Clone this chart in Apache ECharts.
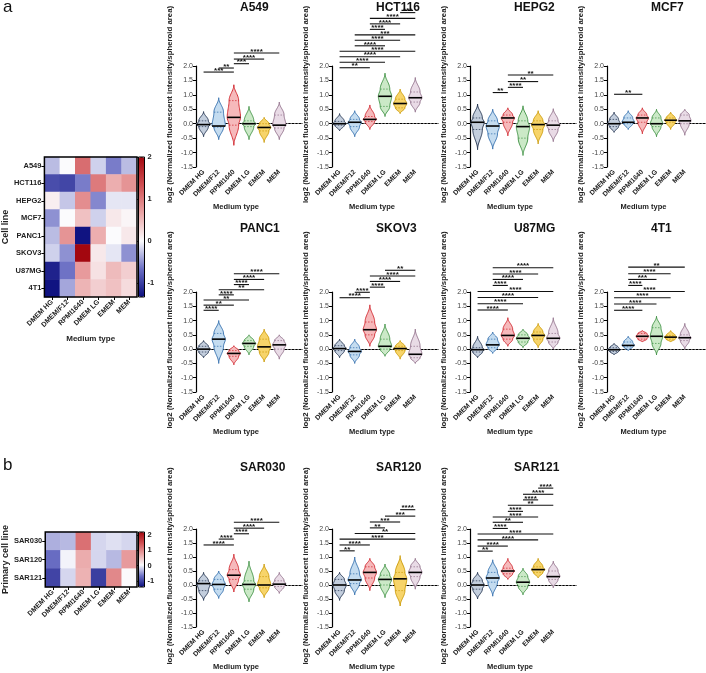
<!DOCTYPE html>
<html><head><meta charset="utf-8">
<script src="https://cdn.jsdelivr.net/npm/echarts@6/dist/echarts.min.js"></script>
<style>html,body{margin:0;padding:0;background:#fff}#c{width:706px;height:673px}</style>
</head><body><div id="c"></div>
<script>
// ---------------- DATA ----------------
const media = ['DMEM HG','DMEM/F12','RPMI1640','DMEM LG','EMEM','MEM'];
const cellLines = ['A549','HCT116','HEPG2','MCF7','PANC1','SKOV3','U87MG','4T1'];
const primaryLines = ['SAR030','SAR120','SAR121'];
const yTicksViolin = [-1.5, 2.0, 0.5]; // min, max, step
const colorbarTicks = [-1, 0, 1, 2];

const heatCell = [
  [-0.30, 0.00, 1.10, -0.20, -0.60, -0.30],
  [-0.90, -0.95, -0.60, 1.00, 0.60, 0.80],
  [0.10, -0.25, 0.85, -0.55, -0.10, -0.10],
  [-0.50, 0.00, 0.45, -0.20, 0.15, 0.05],
  [-0.30, 0.80, -1.30, 0.60, 0.00, 0.15],
  [-0.20, -0.50, 2.00, 0.15, -0.10, -0.50],
  [-1.20, -0.65, 0.75, 0.20, 0.50, 0.35],
  [-1.30, -0.40, 0.55, 0.35, 0.45, 0.25]
];
const heatPrimary = [
  [-0.35, -0.30, 1.20, -0.15, -0.10, -0.15],
  [-0.70, 0.00, 0.70, -0.15, -0.30, 0.85],
  [-1.00, -0.15, 0.65, -1.05, 1.00, 0.05]
];

// violins: [min, q1, median, q3, max] per medium
const vA549   = [[-0.45,-0.10,-0.03,0.10,0.42],[-0.55,-0.12,-0.08,0.40,0.90],[-0.75,-0.05,0.22,0.80,1.35],[-0.55,-0.10,0.00,0.10,0.60],[-0.65,-0.25,-0.13,0.00,0.22],[-0.55,-0.15,-0.05,0.30,0.75]];
const vHCT116 = [[-0.25,-0.05,0.00,0.08,0.35],[-0.45,-0.10,0.05,0.15,0.45],[-0.20,0.08,0.15,0.25,0.65],[0.25,0.60,0.95,1.20,1.75],[0.35,0.55,0.70,0.85,1.20],[0.40,0.75,0.90,1.10,1.60]];
const vHEPG2  = [[-0.90,-0.20,0.05,0.20,0.68],[-0.88,-0.35,-0.08,0.10,0.50],[-0.42,0.05,0.20,0.30,0.55],[-1.10,-0.50,-0.10,0.10,0.62],[-0.70,-0.20,-0.03,0.10,0.45],[-0.62,-0.20,-0.05,0.10,0.52]];
const vMCF7    = [[-0.30,-0.10,0.00,0.15,0.40],[-0.20,0.00,0.05,0.20,0.45],[-0.35,0.05,0.20,0.30,0.55],[-0.45,-0.10,0.00,0.20,0.50],[-0.20,0.05,0.12,0.20,0.40],[-0.40,0.00,0.10,0.30,0.50]];
const vPANC1  = [[-0.30,-0.10,0.00,0.10,0.30],[-0.50,0.10,0.35,0.55,1.00],[-0.55,-0.25,-0.15,-0.05,0.12],[-0.20,0.10,0.20,0.30,0.50],[-0.45,-0.10,0.08,0.35,0.70],[-0.35,0.00,0.15,0.30,0.50]];
const vSKOV3  = [[-0.30,-0.05,0.02,0.12,0.35],[-0.50,-0.20,-0.08,0.05,0.35],[0.10,0.50,0.68,0.95,1.55],[-0.25,0.00,0.10,0.35,0.88],[-0.35,-0.05,0.02,0.10,0.30],[-0.50,-0.30,-0.18,0.10,0.70]];
const vU87MG  = [[-0.30,-0.10,-0.02,0.05,0.45],[-0.15,0.05,0.15,0.35,0.60],[0.10,0.35,0.48,0.70,1.10],[0.05,0.25,0.38,0.50,0.70],[0.05,0.35,0.48,0.60,0.90],[0.00,0.25,0.38,0.55,1.10]];
const v4T1    = [[-0.20,-0.08,-0.02,0.05,0.20],[-0.05,0.08,0.13,0.25,0.45],[0.25,0.35,0.45,0.55,0.65],[-0.20,0.20,0.45,0.75,1.15],[0.25,0.35,0.42,0.48,0.65],[0.00,0.30,0.40,0.50,0.90]];
const vSAR030 = [[-0.55,-0.20,0.05,0.15,0.45],[-0.48,-0.15,0.02,0.20,0.50],[-0.25,0.20,0.35,0.55,1.10],[-0.60,-0.15,0.02,0.15,0.85],[-0.45,-0.10,0.00,0.30,0.75],[-0.30,-0.05,0.03,0.15,0.45]];
const vSAR120 = [[-0.55,-0.20,0.00,0.20,0.45],[-0.35,0.05,0.18,0.40,1.00],[-0.20,0.25,0.45,0.65,0.95],[-0.45,0.00,0.20,0.35,0.75],[-0.75,-0.20,0.22,0.45,1.05],[-0.15,0.30,0.45,0.65,0.95]];
const vSAR121 = [[-0.50,-0.15,0.00,0.15,0.45],[-0.40,0.10,0.25,0.45,0.90],[0.20,0.40,0.50,0.60,0.95],[-0.35,-0.05,0.10,0.30,0.60],[0.25,0.45,0.55,0.65,0.95],[-0.10,0.20,0.30,0.50,0.85]];

// significance brackets: [from, to, y, number of stars]
const bA549   = [[2,5,2.45,4],[2,4,2.24,4],[2,3,2.08,3],[1,2,1.93,2],[0,2,1.79,3]];
const bHCT116 = [[4,5,3.85,3],[2,5,3.65,4],[2,4,3.46,4],[2,3,3.27,4],[1,5,3.08,3],[1,4,2.89,4],[1,3,2.70,4],[0,5,2.51,4],[0,4,2.32,4],[0,3,2.13,4],[0,2,1.94,2]];
const bHEPG2  = [[2,5,1.69,2],[2,4,1.46,2],[2,3,1.26,4],[1,2,1.08,2]];
const bMCF7   = [[0,2,1.02,2]];
const bPANC1  = [[2,5,2.64,4],[2,4,2.44,4],[2,3,2.26,4],[1,4,2.08,2],[1,2,1.90,4],[0,3,1.72,2],[0,2,1.54,2],[0,1,1.36,4]];
const bSKOV3  = [[3,5,2.76,2],[2,5,2.56,4],[2,4,2.37,4],[2,3,2.17,4],[1,2,1.99,4],[0,2,1.80,4]];
const bU87MG  = [[1,5,2.85,4],[1,4,2.63,4],[1,3,2.44,4],[1,2,2.23,4],[0,5,2.02,4],[0,4,1.81,4],[0,3,1.59,4],[0,2,1.37,4]];
const b4T1    = [[1,5,2.87,2],[1,4,2.64,4],[1,3,2.44,3],[1,2,2.23,4],[0,5,2.02,4],[0,4,1.80,4],[0,3,1.58,4],[0,2,1.36,4]];
const bSAR030 = [[2,5,2.24,4],[2,4,2.03,4],[2,3,1.83,4],[1,2,1.64,4],[0,2,1.43,4]];
const bSAR120 = [[4,5,2.69,4],[3,5,2.46,3],[2,4,2.25,3],[2,3,2.04,2],[1,5,1.84,2],[0,5,1.64,4],[0,2,1.43,4],[0,1,1.22,2]];
const bSAR121 = [[4,5,3.46,4],[3,5,3.24,4],[3,4,3.04,4],[2,5,2.85,2],[2,3,2.63,4],[1,4,2.43,4],[1,3,2.24,2],[1,2,2.02,4],[0,5,1.82,4],[0,4,1.61,4],[0,2,1.39,4],[0,1,1.21,2]];

// ---------------- STYLE / LAYOUT ----------------
const edgeCol = ['#1c2d4a','#2c6aaa','#cf2129','#3b8f40','#c99700','#8e6d88'];
const fillCol = ['#c3cedd','#c4dcf0','#f6b9bb','#cbe9c7','#f7d46a','#e9dbe6'];
const heatColors = ['#0c0f7e','#6b6fc4','#fbfbfd','#eaa5a6','#cf4f52','#a3070f'];
const FONT = 'Liberation Sans, Arial, sans-serif';
const colX = [196, 332, 470, 607];
const rows = [{top:66,h:101,title:2},{top:292,h:100,title:223},{top:529,h:98,title:462}];
const panels = [
  ['A549',vA549,bA549,0,0],['HCT116',vHCT116,bHCT116,0,1],['HEPG2',vHEPG2,bHEPG2,0,2],['MCF7',vMCF7,bMCF7,0,3],
  ['PANC1',vPANC1,bPANC1,1,0],['SKOV3',vSKOV3,bSKOV3,1,1],['U87MG',vU87MG,bU87MG,1,2],['4T1',v4T1,b4T1,1,3],
  ['SAR030',vSAR030,bSAR030,2,0],['SAR120',vSAR120,bSAR120,2,1],['SAR121',vSAR121,bSAR121,2,2]
];
const yName = 'log2 (Normalized fluorescent intensity/spheroid area)';

function violinItem(params, api){
  const cat = api.value(0);
  const v = [api.value(1),api.value(2),api.value(3),api.value(4),api.value(5)];
  const band = api.size([1,0])[0];
  const hw = band*0.44;
  const cx = api.coord([cat, v[2]])[0];
  const knots = [[v[0],0],[v[1],0.72],[v[2],1],[v[3],0.72],[v[4],0]];
  const wAt = y => {
    for (let k=0;k<4;k++){
      const a=knots[k], b=knots[k+1];
      if (y>=a[0]-1e-9 && y<=b[0]+1e-9){
        const t = b[0]===a[0]?1:(y-a[0])/(b[0]-a[0]);
        const s = (1-Math.cos(Math.PI*t))/2;
        return (a[1]+(b[1]-a[1])*s)*hw;
      }
    }
    return 0;
  };
  const N=48, right=[], left=[];
  for (let i=0;i<=N;i++){
    const y=v[0]+(v[4]-v[0])*i/N;
    const py=api.coord([cat,y])[1];
    const w=wAt(y);
    right.push([cx+w,py]); left.unshift([cx-w,py]);
  }
  const hl = (val, style) => {
    const py = api.coord([cat,val])[1]; const w = wAt(val);
    return {type:'line', shape:{x1:cx-w,y1:py,x2:cx+w,y2:py}, style};
  };
  return {type:'group', children:[
    {type:'polygon', shape:{points:right.concat(left)}, style:{fill:fillCol[cat], stroke:edgeCol[cat], lineWidth:0.9}},
    hl(v[1], {stroke:edgeCol[cat], lineWidth:0.7, lineDash:[1.5,1.5]}),
    hl(v[3], {stroke:edgeCol[cat], lineWidth:0.7, lineDash:[1.5,1.5]}),
    hl(v[2], {stroke:'#000', lineWidth:1.6})
  ]};
}
function bracketItem(params, api){
  const p1 = api.coord([api.value(0), api.value(2)]);
  const p2 = api.coord([api.value(1), api.value(2)]);
  const n = api.value(3);
  return {type:'group', children:[
    {type:'line', shape:{x1:p1[0],y1:p1[1],x2:p2[0],y2:p2[1]}, style:{stroke:'#111', lineWidth:1.1}},
    {type:'text', style:{x:(p1[0]+p2[0])/2, y:p1[1]+2.5, text:'*'.repeat(n), fill:'#111', font:'bold 8px '+FONT, textAlign:'center', textVerticalAlign:'bottom'}}
  ]};
}

const grid=[], xAxis=[], yAxis=[], series=[], graphic=[];
panels.forEach((p,k)=>{
  const [name, vio, br, r, c] = p;
  const row = rows[r];
  grid.push({left:colX[c], top:row.top, width:106, height:row.h});
  xAxis.push({gridIndex:k, type:'category', data:media.concat(['']), boundaryGap:true,
    axisLine:{lineStyle:{color:'#000',width:1.2}},
    axisTick:{alignWithLabel:true, interval:(i)=>i<6, length:3, lineStyle:{color:'#000',width:1}},
    axisLabel:{interval:0, rotate:45, fontSize:6.8, fontWeight:'bold', color:'#222', margin:4, fontFamily:FONT},
    name:'Medium type', nameLocation:'middle', nameGap:36,
    nameTextStyle:{fontSize:7.5, fontWeight:'bold', color:'#222', fontFamily:FONT, padding:[0,26,0,0]}});
  yAxis.push({gridIndex:k, type:'value', min:yTicksViolin[0], max:yTicksViolin[1], interval:yTicksViolin[2],
    name:yName, nameLocation:'middle', nameGap:22,
    nameTextStyle:{fontSize:7.8, fontWeight:'bold', color:'#222', fontFamily:FONT, padding:[0,0,0,24]},
    axisLine:{show:true, lineStyle:{color:'#000',width:1.2}},
    axisTick:{show:true, length:3, lineStyle:{color:'#000'}},
    axisLabel:{fontSize:7, color:'#444', margin:3, fontFamily:FONT, formatter:v=>v.toFixed(1)},
    splitLine:{show:false}});
  series.push({type:'custom', xAxisIndex:k, yAxisIndex:k, renderItem:violinItem,
    encode:{x:0, y:[1,2,3,4,5]}, data:vio.map((a,i)=>[i].concat(a)), clip:false, z:3,
    markLine:{silent:true, symbol:'none', label:{show:false}, animation:false,
      lineStyle:{color:'#777', type:[1.5,2], width:1}, data:[{yAxis:0}], z:1}});
  series.push({type:'custom', xAxisIndex:k, yAxisIndex:k, renderItem:bracketItem,
    encode:{x:[0,1], y:2}, data:br, clip:false, z:4});
  graphic.push({type:'text', left:colX[c]+44, top:row.title, style:{text:name, font:'bold 12px '+FONT, fill:'#111', textAlign:'center'}});
});

// heatmaps
const hA = panels.length, hB = hA+1, cA = hA+2, cB = hA+3;
grid.push({left:43, top:157, width:94, height:140, show:true, borderColor:'#000', borderWidth:1.5, backgroundColor:'transparent', z:10});
grid.push({left:43, top:532, width:94, height:55, show:true, borderColor:'#000', borderWidth:1.5, backgroundColor:'transparent', z:10});
grid.push({left:138.5, top:157, width:6, height:140, show:true, borderColor:'#000', borderWidth:1, backgroundColor:'transparent', z:10});
grid.push({left:138.5, top:532, width:6, height:55, show:true, borderColor:'#000', borderWidth:1, backgroundColor:'transparent', z:10});

const heatX = (gi, withName) => ({gridIndex:gi, type:'category', data:media,
  axisLine:{show:false}, axisTick:{show:true, alignWithLabel:true, length:3, lineStyle:{color:'#000'}},
  axisLabel:{interval:0, rotate:45, fontSize:7, fontWeight:'bold', color:'#222', margin:4, fontFamily:FONT},
  name: withName?'Medium type':'', nameLocation:'middle', nameGap:38,
  nameTextStyle:{fontSize:8, fontWeight:'bold', color:'#222', fontFamily:FONT}});
const heatY = (gi, cats, nm) => ({gridIndex:gi, type:'category', data:cats, inverse:true,
  axisLine:{show:false}, axisTick:{show:true, alignWithLabel:true, length:3, lineStyle:{color:'#000'}},
  axisLabel:{fontSize:7.5, fontWeight:'bold', color:'#222', margin:3, fontFamily:FONT},
  name:nm, nameLocation:'middle', nameGap:28, nameRotate:90,
  nameTextStyle:{fontSize:9, fontWeight:'bold', color:'#222', fontFamily:FONT}});
xAxis.push(heatX(hA,true)); yAxis.push(heatY(hA,cellLines,'Cell line'));
xAxis.push(heatX(hB,false)); yAxis.push(heatY(hB,primaryLines,'Primary cell line'));
const cbY = (gi,mn,mx) => ({gridIndex:gi, type:'value', min:mn, max:mx, position:'right',
  axisLine:{show:false}, splitLine:{show:false},
  axisTick:{show:true, inside:true, length:3, customValues:colorbarTicks, lineStyle:{color:'#000'}},
  axisLabel:{customValues:colorbarTicks, fontSize:7.5, fontWeight:'bold', color:'#222', margin:3, fontFamily:FONT}});
xAxis.push({gridIndex:cA, type:'value', show:false}); yAxis.push(cbY(cA,-1.33,2));
xAxis.push({gridIndex:cB, type:'value', show:false}); yAxis.push(cbY(cB,-1.4,2.2));

const heatSeriesA = series.length;
series.push({type:'heatmap', xAxisIndex:hA, yAxisIndex:hA,
  data:heatCell.flatMap((row,r)=>row.map((v,c)=>[c,r,v]))});
series.push({type:'heatmap', xAxisIndex:hB, yAxisIndex:hB,
  data:heatPrimary.flatMap((row,r)=>row.map((v,c)=>[c,r,v]))});

graphic.push({type:'text', left:3, top:-1, style:{text:'a', font:'17px '+FONT, fill:'#111'}});
graphic.push({type:'text', left:3, top:457, style:{text:'b', font:'17px '+FONT, fill:'#111'}});

const chart = echarts.init(document.getElementById('c'), null, {renderer:'canvas'});
chart.setOption({
  animation:false,
  textStyle:{fontFamily:FONT},
  grid, xAxis, yAxis, series, graphic,
  visualMap:[
    {type:'continuous', seriesIndex:heatSeriesA, min:-1.33, max:2, inRange:{color:heatColors},
     left:138.5, top:157, itemWidth:6, itemHeight:140, text:['',''], calculable:false, padding:0, hoverLink:false, z:5},
    {type:'continuous', seriesIndex:heatSeriesA+1, min:-1.4, max:2.2, inRange:{color:heatColors},
     left:138.5, top:532, itemWidth:6, itemHeight:55, text:['',''], calculable:false, padding:0, hoverLink:false, z:5}
  ]
});
</script></body></html>
